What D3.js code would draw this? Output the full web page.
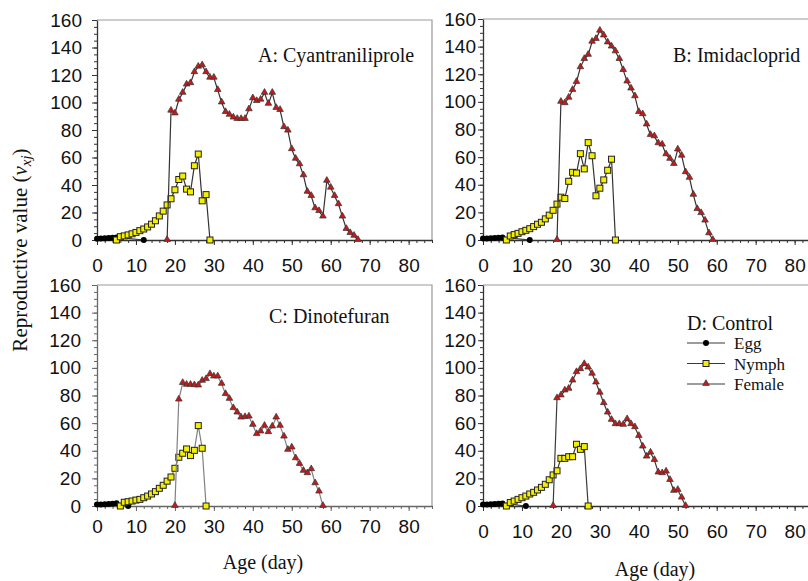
<!DOCTYPE html>
<html>
<head>
<meta charset="utf-8">
<script src="https://cdn.jsdelivr.net/npm/d3@7"></script>
<style>
  body { margin: 0; background: #fff; }
</style>
</head>
<body>
<svg></svg>
<script>
// panel titles and legend labels
const panelTitles = ["A: Cyantraniliprole", "B: Imidacloprid", "C: Dinotefuran", "D: Control"];
const stageNames = ["Egg", "Nymph", "Female"];
const yTicks = [0, 20, 40, 60, 80, 100, 120, 140, 160];
const xTicks = [0, 10, 20, 30, 40, 50, 60, 70, 80];

// egg: [age, value] pairs (last point lies on the axis)
const eggA = [[0, 1.0], [1, 1.1], [2, 1.2], [3, 1.4], [4, 1.6], [5, 1.9], [12, 0]];
const eggB = [[0, 1.0], [1, 1.1], [2, 1.2], [3, 1.4], [4, 1.6], [5, 1.9], [12, 0]];
const eggC = [[0, 1.0], [1, 1.1], [2, 1.3], [3, 1.5], [4, 1.7], [5, 2.0], [8, 0]];
const eggD = [[0, 1.0], [1, 1.1], [2, 1.2], [3, 1.4], [4, 1.6], [5, 1.9], [11, 0]];

// nymph and female: first age, then one value per day
const nymphStart = [5, 6, 6, 6];
const nymphA = [0, 2.4, 3, 3.7, 4.5, 5.5, 6.8, 8, 9.5, 11.5, 14, 17.5, 21, 25.5, 30,
  36.5, 44, 46.5, 37, 35, 54, 62.5, 28.5, 33, 0];
const nymphB = [0, 2.9, 3.9, 4.8, 6, 7, 8.2, 9.7, 11.4, 12.8, 15.3, 18, 21.5, 26, 31,
  30, 42.5, 49, 48.5, 62.5, 51.5, 70.5, 61, 32, 37.5, 43.5, 50.5, 58.5, 0];
const nymphC = [0, 2.7, 3.1, 3.6, 4.3, 4.8, 6, 7.2, 8.7, 10.4, 12.8, 15, 18, 21, 27.3,
  35.3, 38.2, 41.3, 36.5, 40.3, 58.2, 41.8, 0];
const nymphD = [0, 2.5, 3.6, 4.8, 6, 7.2, 8.7, 9.9, 11.6, 13.5, 15.7, 19, 22.5, 25.5,
  34.5, 34.5, 35.7, 35.7, 44.7, 41, 43, 0];

const femaleStart = [18, 19, 20, 18];
const femaleA = [0, 94, 92, 102, 107, 113, 114, 122, 126, 127, 122, 118, 118, 109, 100,
  93, 91, 89, 88, 88, 88, 95, 103, 101, 102, 107, 99, 107, 96, 94.5, 82, 79.5, 66, 59,
  55, 47, 35, 32, 23, 21, 17, 43, 38, 32, 26, 17, 8, 5, 3, 0];
const femaleB = [0, 100, 99, 103, 108.6, 114.4, 125, 131, 134, 143.5, 145.5, 151.5, 148,
  143, 140, 136.5, 131, 123, 114.7, 109.6, 104, 92.6, 91, 83.6, 76, 75, 70, 69, 62,
  58.7, 55, 65.5, 61, 49, 45, 32.7, 22.3, 19.4, 14, 4.8, 0];
const femaleC = [0, 77, 89, 87.7, 87.7, 87.4, 87.2, 90.6, 91.8, 95.4, 93.7, 93.7, 88.4,
  81, 77.5, 70.8, 67.6, 64, 64.3, 64.7, 58.7, 52, 53.9, 58, 53.4, 57.5, 64, 58, 50.2,
  40.6, 42.3, 34.5, 30.4, 25.4, 23.7, 26.6, 16.4, 10.4, 0];
const femaleD = [0, 78, 80, 83.6, 84.8, 90.8, 96.9, 99, 102.7, 100.2, 95.7, 89.4, 82,
  74.4, 67.6, 62.3, 59.2, 59.2, 58.7, 62.8, 59.2, 57, 50.7, 43, 35.7, 38.6, 33.3, 24.2,
  23.7, 24.9, 18.8, 10.9, 11.6, 6, 0];

const eggs = [eggA, eggB, eggC, eggD];
const nymphs = [nymphA, nymphB, nymphC, nymphD];
const females = [femaleA, femaleB, femaleC, femaleD];

const width = 808, height = 581;
const SERIF = '"Liberation Serif", "Times New Roman", serif';
const SANS = '"Liberation Sans", Arial, sans-serif';

const svg = d3.select("svg").attr("width", width).attr("height", height);

// where each panel sits on the page
const frames = [
  { left: 97, top: 20, bottom: 240, w: 335, yPad: 10, xPad: 14, ink: "#333", line: "#333",
    title: [258, 62] },
  { left: 483, top: 19, bottom: 240, w: 335, yPad: 2, xPad: 14, ink: "#333", line: "#333",
    title: [673, 62] },
  { left: 97, top: 285, bottom: 506, w: 335, yPad: 11, xPad: 9, ink: "#666", line: "#808080",
    title: [269, 323] },
  { left: 483, top: 285, bottom: 506, w: 335, yPad: 2, xPad: 14, ink: "#333", line: "#3a3a3a",
    title: [687, 330] },
];

const toPairs = (start, vals) => vals.map((v, i) => [start + i, v]);

const tri = d3.symbol().type(d3.symbolTriangle).size(19);

frames.forEach((f, i) => {
  const x = d3.scaleLinear().domain([0, 86]).range([f.left, f.left + f.w]);
  const y = d3.scaleLinear().domain([0, 160]).range([f.bottom, f.top]);

  const g = svg.append("g");

  // frame top/right
  g.append("path")
    .attr("d", `M${f.left},${f.top}H${f.left + f.w}V${f.bottom}`)
    .attr("fill", "none")
    .attr("stroke", "#999")
    .attr("stroke-width", 1.2);

  // minor ticks
  g.append("g")
    .attr("transform", `translate(${f.left},0)`)
    .call(d3.axisLeft(y).tickValues(d3.range(0, 161, 5)).tickSize(3).tickFormat(""))
    .call((a) => a.select(".domain").remove())
    .selectAll("line").attr("stroke", f.ink);
  g.append("g")
    .attr("transform", `translate(0,${f.bottom})`)
    .call(d3.axisBottom(x).tickValues(d3.range(0, 87, 2)).tickSize(3).tickFormat(""))
    .call((a) => a.select(".domain").remove())
    .selectAll("line").attr("stroke", f.ink);

  // major axes
  const ya = g.append("g")
    .attr("transform", `translate(${f.left},0)`)
    .call(d3.axisLeft(y).tickValues(yTicks).tickSize(5).tickSizeOuter(0).tickPadding(f.yPad));
  const xa = g.append("g")
    .attr("transform", `translate(0,${f.bottom})`)
    .call(d3.axisBottom(x).tickValues(xTicks).tickSize(5).tickSizeOuter(0).tickPadding(f.xPad));
  [ya, xa].forEach((a) => {
    a.select(".domain").attr("stroke", f.ink).attr("stroke-width", 1.3);
    a.selectAll("line").attr("stroke", f.ink);
    a.selectAll("text").attr("font-size", 19).attr("fill", "#111")
      .style("font-family", SANS);
  });

  const line = d3.line().x((d) => x(d[0])).y((d) => y(d[1]));

  const egg = eggs[i];
  const nymph = toPairs(nymphStart[i], nymphs[i]);
  const female = toPairs(femaleStart[i], females[i]);

  // egg
  g.append("path").datum(egg).attr("d", line)
    .attr("fill", "none").attr("stroke", f.line).attr("stroke-width", 1.2);
  g.selectAll(".egg").data(egg).enter().append("circle")
    .attr("cx", (d) => x(d[0])).attr("cy", (d) => y(d[1])).attr("r", 3)
    .attr("fill", "#000");

  // nymph
  g.append("path").datum(nymph).attr("d", line)
    .attr("fill", "none").attr("stroke", f.line).attr("stroke-width", 1.2);
  g.selectAll(".nymph").data(nymph).enter().append("rect")
    .attr("x", (d) => x(d[0]) - 3).attr("y", (d) => y(d[1]) - 3)
    .attr("width", 6).attr("height", 6)
    .attr("fill", "#f5f000").attr("stroke", "#222").attr("stroke-width", 1);

  // female
  g.append("path").datum(female).attr("d", line)
    .attr("fill", "none").attr("stroke", f.line).attr("stroke-width", 1.2);
  g.selectAll(".female").data(female).enter().append("path")
    .attr("d", tri)
    .attr("transform", (d) => `translate(${x(d[0])},${y(d[1]) - 0.5})`)
    .attr("fill", "#c41a1a").attr("stroke", "#333").attr("stroke-width", 0.7);

  // panel title
  svg.append("text")
    .attr("x", f.title[0]).attr("y", f.title[1])
    .attr("font-size", 20).attr("fill", "#111")
    .style("font-family", SERIF)
    .text(panelTitles[i]);
});

// legend in panel D
const legend = svg.append("g").attr("transform", "translate(687,343)");
stageNames.forEach((name, k) => {
  const row = legend.append("g").attr("transform", `translate(0,${k * 20.5})`);
  row.append("line").attr("x1", 0).attr("x2", 38).attr("y1", 0).attr("y2", 0)
    .attr("stroke", "#3a3a3a").attr("stroke-width", 1.2);
  if (k == 0) {
    row.append("circle").attr("cx", 19).attr("cy", 0).attr("r", 3).attr("fill", "#000");
  } else if (k == 1) {
    row.append("rect").attr("x", 16).attr("y", -3).attr("width", 6).attr("height", 6)
      .attr("fill", "#f5f000").attr("stroke", "#222");
  } else {
    row.append("path").attr("d", tri).attr("transform", "translate(19,-0.5)")
      .attr("fill", "#c41a1a").attr("stroke", "#333").attr("stroke-width", 0.7);
  }
  row.append("text").attr("x", 47).attr("y", 6)
    .attr("font-size", 17).attr("fill", "#111")
    .style("font-family", SERIF).text(name);
});

// axis titles
const ylab = svg.append("text")
  .attr("transform", "translate(27,250) rotate(-90)")
  .attr("text-anchor", "middle").attr("font-size", 21).attr("fill", "#111")
  .style("font-family", SERIF);
ylab.append("tspan").text("Reproductive value (");
ylab.append("tspan").attr("font-style", "italic").text("v");
ylab.append("tspan").attr("font-style", "italic").attr("font-size", 15).attr("dy", 4).text("xj");
ylab.append("tspan").attr("dy", -4).text(")");

svg.append("text")
  .attr("x", 263).attr("y", 569).attr("text-anchor", "middle")
  .attr("font-size", 20).attr("fill", "#111")
  .style("font-family", SERIF).text("Age (day)");
svg.append("text")
  .attr("x", 655).attr("y", 576).attr("text-anchor", "middle")
  .attr("font-size", 20).attr("fill", "#111")
  .style("font-family", SERIF).text("Age (day)");
</script>
</body>
</html>
